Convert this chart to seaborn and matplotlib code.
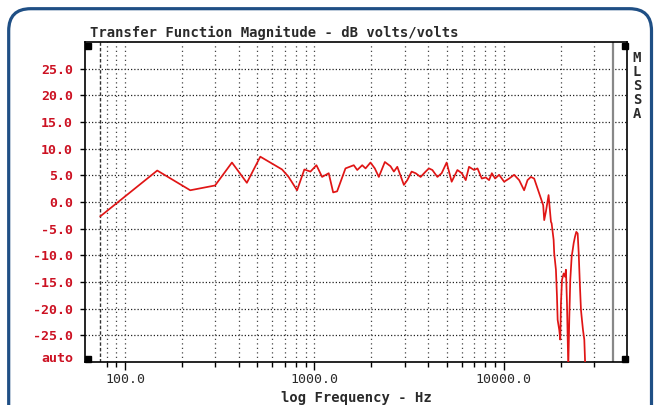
import matplotlib
matplotlib.use("Agg")
import matplotlib.pyplot as plt
import matplotlib.transforms as mtransforms
from matplotlib.patches import FancyBboxPatch
import seaborn as sns
import pandas as pd

# ---- data ----
freq_hz = [74, 148, 221, 299, 367, 440, 518, 675, 731, 810, 885, 953, 1025, 1098,
           1190, 1256, 1318, 1459, 1614, 1683, 1788, 1862, 1977, 2084, 2188, 2355,
           2523, 2628, 2739, 2968, 3093, 3260, 3422, 3637, 3865, 4024, 4195, 4459,
           4697, 4990, 5305, 5688, 5997, 6295, 6550, 6964, 7262, 7650, 8035, 8358,
           8645, 8995, 9443, 10037, 10670, 11335, 12050, 12800, 13340, 13890, 14460,
           15380, 16140, 16340, 16680, 17230, 17730, 17880, 18320, 18450, 18840,
           19080, 19240, 19620, 19860, 20030, 20280, 20700, 21030, 21280, 21550,
           21890, 22160, 22430, 22820, 23100, 23380, 23760, 24130, 24540, 24850,
           25150, 25540, 25850, 26180, 26600, 26920]
mag_db = [-2.7, 5.9, 2.2, 3.1, 7.4, 3.6, 8.5, 6.1, 4.7, 2.2, 6.1, 5.7, 6.9, 4.7,
          5.4, 1.8, 2.0, 6.3, 6.9, 6.0, 6.9, 6.3, 7.4, 6.3, 4.7, 7.5,
          6.7, 5.7, 6.6, 3.2, 4.1, 5.7, 5.4, 4.7, 5.7, 6.3, 6.0, 4.7,
          5.4, 7.4, 3.8, 6.0, 5.4, 4.1, 6.6, 6.0, 6.3, 4.4, 4.6, 4.1,
          5.4, 4.4, 5.1, 3.8, 4.4, 5.1, 4.1, 2.2, 4.1, 4.7, 4.4,
          1.6, -0.6, -3.4, -1.8, 1.3, -3.7, -4.0, -7.1, -9.6, -12.7,
          -17.7, -22.1, -24.0, -25.8, -19.0, -14.6, -13.4, -14.0, -12.7, -19.0,
          -31.0, -22.0, -14.6, -10.2, -9.0, -7.7, -6.5, -5.6, -5.9, -9.6,
          -14.6, -20.2, -22.1, -24.0, -25.8, -31.0]

y_ticks = [25, 20, 15, 10, 5, 0, -5, -10, -15, -20, -25]
y_tick_labels = ["25.0", "20.0", "15.0", "10.0", "5.0", "0.0", "-5.0", "-10.0",
                 "-15.0", "-20.0", "-25.0"]
x_major = [100, 1000, 10000]
x_major_labels = ["100.0", "1000.0", "10000.0"]
x_minor = [80, 90, 200, 300, 400, 500, 600, 700, 800, 900,
           2000, 3000, 4000, 5000, 6000, 7000, 8000, 9000, 20000, 30000]

title_text = "Transfer Function Magnitude - dB volts/volts"
xlabel_text = "log Frequency - Hz"
side_text = "MLSSA"

# ---- style ----
sns.set_style("white")
plt.rcParams["font.family"] = ["DejaVu Sans Mono", "DejaVu Sans"]

W, H = 654, 405
fig = plt.figure(figsize=(W / 100, H / 100), dpi=100)
fig.patch.set_facecolor("white")

L, R, T, B = 85, 627, 42, 362
ax = fig.add_axes([L / W, 1 - B / H, (R - L) / W, (B - T) / H])
ax.set_facecolor("white")

red_txt = "#cc1122"
dark_txt = "#2a2a2a"
curve_col = "#e01515"

df = pd.DataFrame({"freq": freq_hz, "db": mag_db})

ax.set_xscale("log")
ax.set_xlim(61.5, 44700)
ax.set_ylim(-30, 30)

# grid lines
for yv in y_ticks:
    ax.axhline(yv, color="#222222", lw=0.9, ls=(0, (1, 1.6)), zorder=1)
for xv in x_minor + x_major:
    ax.axvline(xv, color="#444444", lw=0.9, ls=(0, (1, 2.6)), zorder=1)
ax.axvline(74, color="#333333", lw=1.0, ls=(0, (2.5, 1.5)), zorder=1)
ax.axvline(37700, color="#888888", lw=1.6, zorder=2)

sns.lineplot(data=df, x="freq", y="db", ax=ax, color=curve_col, lw=1.25,
             estimator=None, sort=False, zorder=3)

ax.set_xlabel("")
ax.set_ylabel("")

ax.set_xticks(x_major)
ax.set_xticklabels(x_major_labels)
ax.set_xticks(x_minor, minor=True)
ax.set_xticklabels([], minor=True)
ax.set_yticks(y_ticks)
ax.set_yticklabels(y_tick_labels)

ax.tick_params(axis="x", which="major", length=5.8, width=1, color="black",
               direction="out", pad=2, labelsize=9.5, labelcolor=dark_txt, bottom=True)
ax.tick_params(axis="x", which="minor", length=3.6, width=1, color="black",
               direction="out", bottom=True)
ax.tick_params(axis="y", which="major", length=3.6, width=1, color="black",
               direction="out", pad=5, labelsize=9.5, labelcolor=red_txt, left=True)
for lab in ax.get_yticklabels():
    lab.set_fontweight("bold")

for sp in ax.spines.values():
    sp.set_visible(True)
    sp.set_color("black")
    sp.set_linewidth(1.2)

# corner squares
for (px, py) in [(88.5, 45.5), (88.5, 358.5), (624.5, 45.5), (624.5, 358.5)]:
    ax.plot([(px - L) / (R - L)], [(B - py) / (B - T)], marker="s", ms=4.4,
            color="black", transform=ax.transAxes, clip_on=False, zorder=5)

# texts
fig.text(90 / W, 1 - 33 / H, title_text, ha="left", va="center",
         fontsize=10, fontweight="bold", color=dark_txt)
fig.text(356 / W, 1 - 398 / H, xlabel_text, ha="center", va="center",
         fontsize=10, fontweight="bold", color=dark_txt)
fig.text(73 / W, 1 - 358 / H, "auto", ha="right", va="center",
         fontsize=9.5, fontweight="bold", color=red_txt)
fig.text(637 / W, 1 - 86 / H, "\n".join(side_text), ha="center", va="center",
         fontsize=10, fontweight="bold", color=dark_txt, linespacing=1.0)

# rounded blue frame
frame = FancyBboxPatch((8.7, -40), 651.5 - 8.7, 396.3 + 40,
                       boxstyle="round,pad=0,rounding_size=22",
                       transform=mtransforms.IdentityTransform(),
                       facecolor="none", edgecolor="#1f4f85", lw=2.3)
fig.add_artist(frame)

fig.savefig("out.png", dpi=100)
